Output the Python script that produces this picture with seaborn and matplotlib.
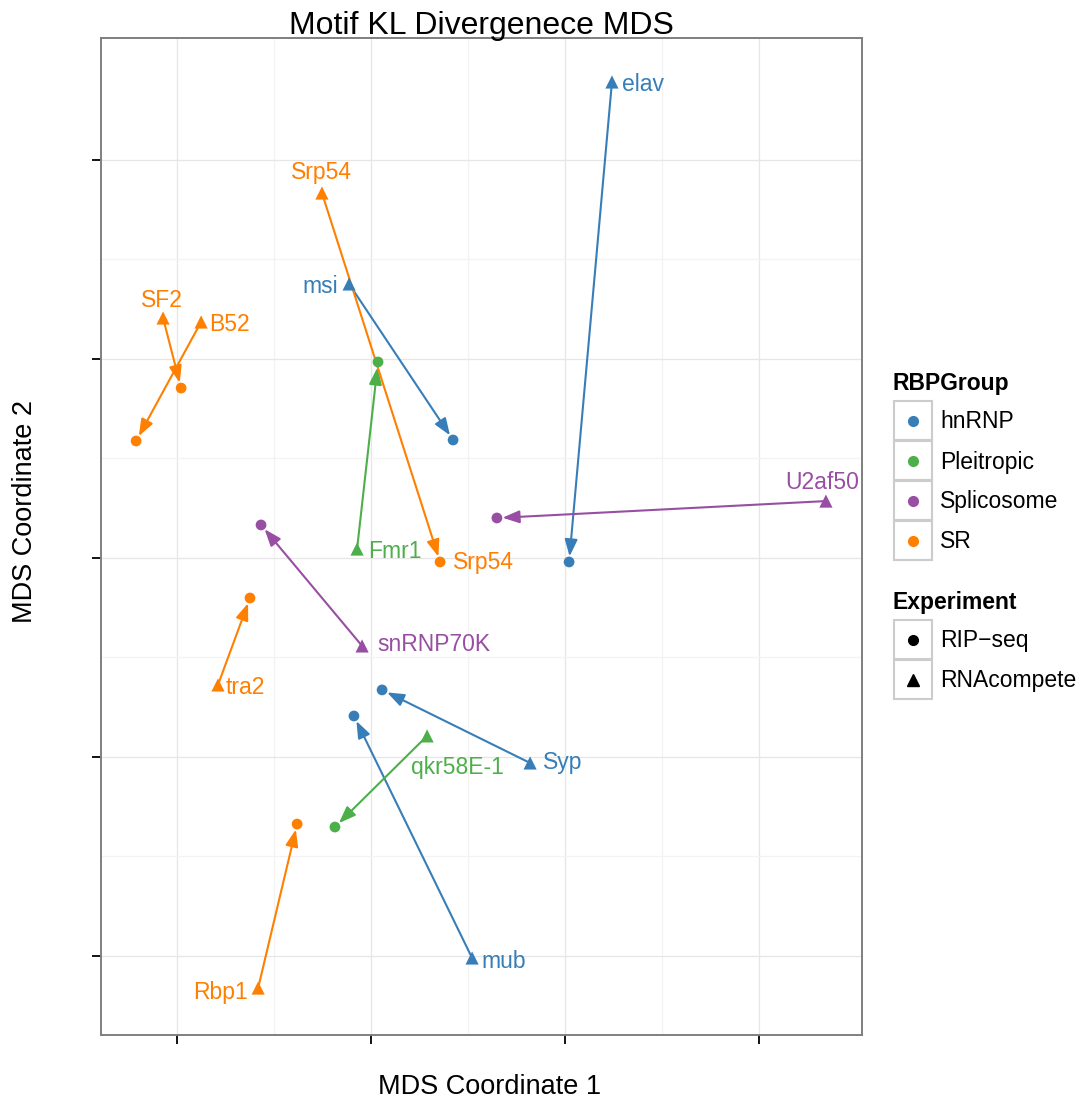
import numpy as np
import pandas as pd
import seaborn as sns
import matplotlib.pyplot as plt
from matplotlib.patches import Rectangle
from matplotlib.lines import Line2D

sns.set_style("white")
plt.rcParams["font.family"] = ["Liberation Sans", "DejaVu Sans"]
plt.rcParams["text.color"] = "black"
plt.rcParams["axes.labelcolor"] = "black"

# MDS coordinates (axis labels are hidden in the original, so units are arbitrary)
proteins = ["elav", "msi", "Syp", "mub", "Fmr1", "qkr58E-1", "U2af50", "snRNP70K",
            "Srp54", "SF2", "B52", "tra2", "Rbp1"]
groups = ["hnRNP", "hnRNP", "hnRNP", "hnRNP", "Pleitropic", "Pleitropic", "Splicosome",
          "Splicosome", "SR", "SR", "SR", "SR", "SR"]
rnacompete_x = [1.242, -0.113, 0.820, 0.521, -0.072, 0.289, 2.345, -0.046, -0.253, -1.072, -0.876, -0.789, -0.582]
rnacompete_y = [2.392, 1.377, -1.030, -2.010, 0.045, -0.894, 0.286, -0.442, 1.834, 1.206, 1.186, -0.638, -2.161]
ripseq_x = [1.021, 0.423, 0.057, -0.088, 0.036, -0.186, 0.649, -0.567, 0.356, -0.979, -1.211, -0.624, -0.381]
ripseq_y = [-0.020, 0.593, -0.663, -0.794, 0.985, -1.352, 0.201, 0.166, -0.020, 0.854, 0.588, -0.201, -1.337]

group_order = ["hnRNP", "Pleitropic", "Splicosome", "SR"]
palette = {"hnRNP": "#377EB8", "Pleitropic": "#4DAF4A", "Splicosome": "#984EA3", "SR": "#FF7F00"}

rc = pd.DataFrame({"protein": proteins, "RBPGroup": groups, "x": rnacompete_x,
                   "y": rnacompete_y, "Experiment": "RNAcompete"})
rip = pd.DataFrame({"protein": proteins, "RBPGroup": groups, "x": ripseq_x,
                    "y": ripseq_y, "Experiment": "RIP\u2212seq"})

W, H = 1081, 1103
fig = plt.figure(figsize=(W / 100, H / 100), dpi=100)
ax = fig.add_axes([101 / W, 1 - 1035 / H, (862 - 101) / W, (1035 - 38) / H])

# arrows RNAcompete -> RIP-seq
for _, r in rc.iterrows():
    p = rip[rip.protein == r.protein].iloc[0]
    ax.annotate("", xy=(p.x, p.y), xytext=(r.x, r.y),
                arrowprops=dict(arrowstyle="-|>,head_length=0.85,head_width=0.32",
                                color=palette[r.RBPGroup], lw=1.5, mutation_scale=12,
                                shrinkA=0, shrinkB=4))

sns.scatterplot(data=rip, x="x", y="y", hue="RBPGroup", hue_order=group_order,
                palette=palette, marker="o", s=60, linewidth=0, legend=False,
                ax=ax, zorder=3)
sns.scatterplot(data=rc, x="x", y="y", hue="RBPGroup", hue_order=group_order,
                palette=palette, marker="^", s=90, linewidth=0, legend=False,
                ax=ax, zorder=3)

# label offsets in pixels (dx, dy, ha)
label_offsets = {
    "elav": (10, -3, "left"), "msi": (-11, -3, "right"), "Syp": (13, 0, "left"),
    "mub": (9, -4, "left"), "Fmr1": (11, -2, "left"), "qkr58E-1": (30, -32, "center"),
    "U2af50": (-4, 19, "center"), "snRNP70K": (15, 1, "left"), "Srp54": (0, 21, "center"),
    "SF2": (-1, 17, "center"), "B52": (8, -3, "left"), "tra2": (8, -3, "left"),
    "Rbp1": (-10, -4, "right"),
}
for _, r in rc.iterrows():
    dx, dy, ha = label_offsets[r.protein]
    ax.annotate(r.protein, (r.x, r.y), xytext=(dx, dy), textcoords="offset pixels",
                ha=ha, va="center", fontsize=16.5, color=palette[r.RBPGroup])
# second Srp54 label next to the RIP-seq point
srp = rip[rip.protein == "Srp54"].iloc[0]
ax.annotate("Srp54", (srp.x, srp.y), xytext=(13, -1), textcoords="offset pixels",
            ha="left", va="center", fontsize=16.5, color=palette["SR"])

ax.set_xlim(-1.392, 2.531)
ax.set_ylim(-2.397, 2.613)
ax.set_xticks([-1, 0, 1, 2])
ax.set_yticks([-2, -1, 0, 1, 2])
ax.set_xticks([-0.5, 0.5, 1.5], minor=True)
ax.set_yticks([-1.5, -0.5, 0.5, 1.5], minor=True)
ax.set_xticklabels([])
ax.set_yticklabels([])
ax.tick_params(which="major", bottom=True, left=True, direction="out",
               length=6.5, width=1.3, color="black")
ax.tick_params(which="minor", bottom=False, left=False, length=0)
ax.grid(True, which="major", color="#e6e6e6", lw=0.9)
ax.grid(True, which="minor", color="#f3f3f3", lw=0.9)
ax.set_axisbelow(True)
for sp in ax.spines.values():
    sp.set_color("#7f7f7f")
    sp.set_linewidth(1.4)

ax.set_xlabel("MDS Coordinate 1", fontsize=19.5)
ax.set_ylabel("MDS Coordinate 2", fontsize=19.5)
ax.xaxis.set_label_coords(0.51, -0.039)
ax.yaxis.set_label_coords(-0.083, 0.525)
ax.set_title("Motif KL Divergenece MDS", fontsize=23, pad=3)


# legends drawn in figure pixel coordinates (top-left origin)
def fx(x):
    return x / W


def fy(y):
    return 1 - y / H


def legend_block(title, title_y, top, labels, handles):
    fig.text(fx(893), fy(title_y), title, fontsize=16.5, fontweight="bold",
             va="center", ha="left")
    for i, (lab, (mk, col)) in enumerate(zip(labels, handles)):
        y0 = top + i * 40
        fig.add_artist(Rectangle((fx(894), fy(y0 + 39)), 38 / W, 39 / H,
                                 transform=fig.transFigure, facecolor="white",
                                 edgecolor="#cccccc", lw=1.5))
        fig.add_artist(Line2D([fx(913)], [fy(y0 + 20)], marker=mk, color=col,
                              markersize=7 if mk == "o" else 8, linestyle="none",
                              transform=fig.transFigure))
        fig.text(fx(940), fy(y0 + 21), lab, fontsize=16.5, va="center", ha="left")


legend_block("RBPGroup", 383, 401, group_order,
             [("o", palette[g]) for g in group_order])
legend_block("Experiment", 603, 620, ["RIP\u2212seq", "RNAcompete"],
             [("o", "black"), ("^", "black")])

fig.savefig("out.png", dpi=100)
